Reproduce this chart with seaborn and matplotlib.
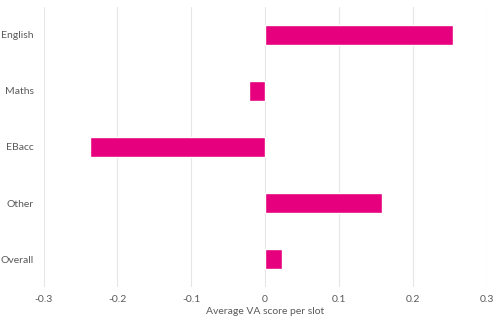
import matplotlib
matplotlib.use("Agg")
import matplotlib.pyplot as plt
import seaborn as sns
import pandas as pd

categories = ["English", "Maths", "EBacc", "Other", "Overall"]
values = [0.254, -0.022, -0.237, 0.158, 0.023]
xticks = [-0.3, -0.2, -0.1, 0, 0.1, 0.2, 0.3]
xticklabels = ["-0.3", "-0.2", "-0.1", "0", "0.1", "0.2", "0.3"]

sns.set_theme(style="white")
plt.rcParams['font.family'] = ['Lato', 'DejaVu Sans']

df = pd.DataFrame({"subject": categories, "va": values})

fig = plt.figure(figsize=(5, 3.27), dpi=100)
ax = fig.add_axes([0.087, 0.122, 0.886, 0.857])
sns.barplot(data=df, y="subject", x="va", orient="h", color="#E6007E",
            width=0.36, ax=ax, saturation=1)
ax.set_xlim(-0.3, 0.3)
ax.set_xticks(xticks)
ax.set_xticklabels(xticklabels)
ax.xaxis.grid(True, color="#e6e6e6", linewidth=0.8)
ax.set_axisbelow(True)
for s in ax.spines.values():
    s.set_visible(False)
ax.tick_params(axis="both", length=0, labelsize=7.5, colors="#5a5a5a")
ax.tick_params(axis="y", pad=7)
ax.tick_params(axis="x", pad=6)
ax.set_ylabel("")
ax.set_xlabel("Average VA score per slot", fontsize=7.5, color="#5a5a5a", labelpad=2)
fig.savefig("out.png", dpi=100)
